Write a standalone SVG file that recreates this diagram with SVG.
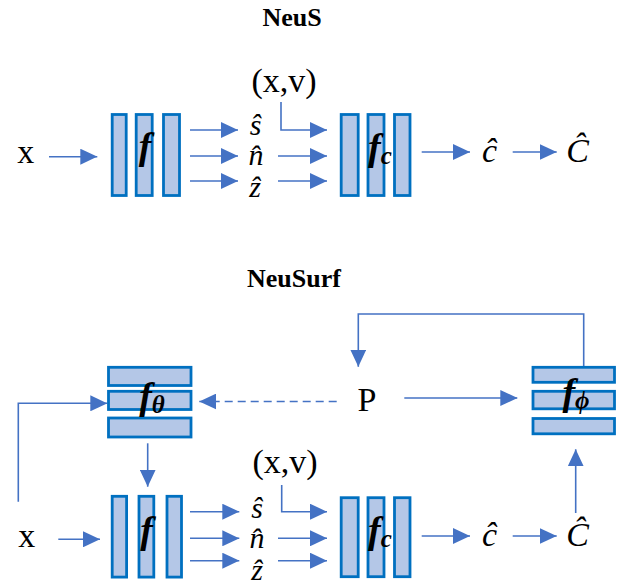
<svg xmlns="http://www.w3.org/2000/svg" width="628" height="588" viewBox="0 0 628 588">
<style>
.bar{fill:#B4C7E7;stroke:#0070C0;stroke-width:2.8}
.ln{fill:none;stroke:#4472C4;stroke-width:1.6;marker-end:url(#ah)}
.dash{stroke-dasharray:8,5}
.title{font-family:"Liberation Serif",serif;font-weight:bold;font-size:26px;text-anchor:middle;fill:#000}
.rm{font-family:"Liberation Serif",serif;font-size:34px;text-anchor:middle;fill:#000}
.it{font-family:"Liberation Serif",serif;font-style:italic;text-anchor:middle;fill:#000}
.fb{font-family:"Liberation Serif",serif;font-style:italic;font-weight:bold;font-size:38px;text-anchor:middle;fill:#000}
.sub{font-size:25px}
</style>
<defs>
<marker id="ah" markerUnits="userSpaceOnUse" markerWidth="17" markerHeight="16" refX="17" refY="8" orient="auto"><path d="M0,0 L17,8 L0,16 z" fill="#4472C4"/></marker>
</defs>

<text class="title" x="292" y="26">NeuS</text>
<text class="title" x="294" y="287">NeuSurf</text>

<g id="connectors">
<path class="ln" d="M49,156.7 H97.3"/>
<path class="ln" d="M190,130 H238"/>
<path class="ln" d="M190,156 H238"/>
<path class="ln" d="M190,181 H238"/>
<path class="ln" d="M281,102 V130 H327"/>
<path class="ln" d="M278,156 H327"/>
<path class="ln" d="M278,181 H327"/>
<path class="ln" d="M421.7,152 H470"/>
<path class="ln" d="M512.7,152 H556.7"/>

<path class="ln" d="M58.3,539.3 H100"/>
<path class="ln" d="M190,511.7 H239.3"/>
<path class="ln" d="M190,538.3 H239.3"/>
<path class="ln" d="M190,560.7 H239.3"/>
<path class="ln" d="M281.7,485 V511.7 H327"/>
<path class="ln" d="M278,538.3 H327"/>
<path class="ln" d="M278,560.7 H327"/>
<path class="ln" d="M421.7,536 H470"/>
<path class="ln" d="M512.7,536 H556.7"/>
<path class="ln" d="M575.7,513 V449.3"/>
<path class="ln" d="M18.3,501.7 V403.3 H107.3"/>
<path class="ln" d="M147.7,443.3 V486.7"/>
<path class="ln dash" d="M336.7,401.5 H199.3"/>
<path class="ln" d="M404.3,398 H517.3"/>
<path class="ln" d="M583.7,366.7 V314 H358.3 V366.7"/>
</g>

<g id="x-top"><text class="rm" x="25.7" y="163.3">x</text></g>
<g id="xv-top"><text class="rm" x="284" y="91.7">(x,v)</text></g>
<g id="f-top">
<rect class="bar" x="112.2" y="114.5" width="14" height="81"/>
<rect class="bar" x="136.2" y="114.5" width="16" height="81"/>
<rect class="bar" x="163.5" y="114.5" width="16" height="81"/>
<text class="fb" x="145" y="159">f</text>
</g>
<g id="shat-top"><text class="it" font-size="30" x="255.5" y="135">ŝ</text></g>
<g id="nhat-top"><text class="it" font-size="30" x="256" y="165">n̂</text></g>
<g id="zhat-top"><text class="it" font-size="30" x="255" y="196.5">ẑ</text></g>
<g id="fc-top">
<rect class="bar" x="341.2" y="114.5" width="17" height="81"/>
<rect class="bar" x="368" y="114.5" width="16" height="81"/>
<rect class="bar" x="394.5" y="114.5" width="15.5" height="81"/>
<text class="fb" x="380" y="160">f<tspan class="sub" dy="4">c</tspan></text>
</g>
<g id="chat-top"><text class="it" font-size="34" x="489.5" y="161.7">ĉ</text></g>
<g id="Chat-top"><text class="it" font-size="34" x="577.5" y="161.7">Ĉ</text></g>

<g id="f-theta">
<rect class="bar" x="108.5" y="367.3" width="82.5" height="18.2"/>
<rect class="bar" x="108.5" y="391.3" width="82.5" height="18.2"/>
<rect class="bar" x="108.5" y="418" width="82.5" height="19"/>
<text class="fb" x="152" y="409">f<tspan class="sub" dy="4">θ</tspan></text>
</g>
<g id="P"><text class="rm" font-size="35" x="367" y="411">P</text></g>
<g id="f-phi">
<rect class="bar" x="533" y="367.3" width="81.5" height="15"/>
<rect class="bar" x="533" y="391.3" width="81.5" height="17.5"/>
<rect class="bar" x="533" y="418.5" width="81.5" height="15.3"/>
<text class="fb" x="576" y="405">f<tspan class="sub" dy="4">ϕ</tspan></text>
</g>

<g id="x-bot"><text class="rm" x="26.7" y="546.7">x</text></g>
<g id="xv-bot"><text class="rm" x="285" y="473">(x,v)</text></g>
<g id="f-bot">
<rect class="bar" x="112.2" y="496.3" width="14.4" height="80.8"/>
<rect class="bar" x="139" y="496.3" width="14.8" height="80.8"/>
<rect class="bar" x="167" y="496.3" width="14.5" height="80.8"/>
<text class="fb" x="146.5" y="543">f</text>
</g>
<g id="shat-bot"><text class="it" font-size="30" x="257" y="518">ŝ</text></g>
<g id="nhat-bot"><text class="it" font-size="30" x="257" y="548">n̂</text></g>
<g id="zhat-bot"><text class="it" font-size="30" x="257" y="580">ẑ</text></g>
<g id="fc-bot">
<rect class="bar" x="341.2" y="497.7" width="17" height="79"/>
<rect class="bar" x="368" y="497.7" width="16" height="79"/>
<rect class="bar" x="394.5" y="497.7" width="15.5" height="79"/>
<text class="fb" x="380" y="543">f<tspan class="sub" dy="4">c</tspan></text>
</g>
<g id="chat-bot"><text class="it" font-size="34" x="489.5" y="546">ĉ</text></g>
<g id="Chat-bot"><text class="it" font-size="34" x="577.5" y="546">Ĉ</text></g>
</svg>
